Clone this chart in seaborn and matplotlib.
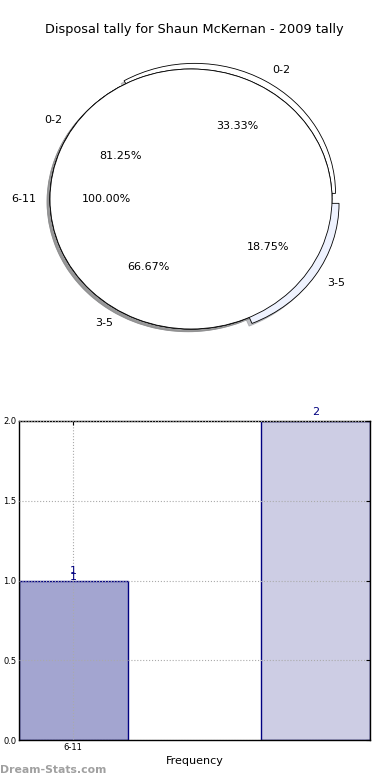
import matplotlib
matplotlib.use("Agg")
import matplotlib.pyplot as plt
import seaborn as sns
import pandas as pd

title = "Disposal tally for Shaun McKernan - 2009 tally"

# pie layers, drawn bottom to top
pie_a_labels = ["0-2", "3-5"]
pie_a_values = [33.33, 66.67]
pie_b_labels = ["0-2", "3-5"]
pie_b_values = [81.25, 18.75]
pie_c_labels = ["6-11"]
pie_c_values = [100.0]

# bar chart
bar_cats = ["6-11", " "]
bar_values = [1, 2]
bar_ticks = ["6-11"]

sns.set_style("white")
plt.rcParams['font.family'] = ['DejaVu Sans']
plt.rcParams['text.color'] = 'black'
plt.rcParams['xtick.color'] = 'black'
plt.rcParams['ytick.color'] = 'black'
plt.rcParams['axes.labelcolor'] = 'black'

white = "#ffffff"
light_blue = "#eef2fe"

fig = plt.figure(figsize=(3.9, 7.8), dpi=100)

fig.text(0.497, 1 - 30 / 780, title, ha='center', va='center', fontsize=9.3)

# ---- pie ----
ax1 = fig.add_axes([0.65 / 390, (780 - 361.5) / 780, 380.7 / 390, 325 / 780])
common = dict(autopct='%1.2f%%', startangle=0, pctdistance=0.6,
              shadow={'ox': -0.015, 'oy': -0.015, 'shade': 0.45},
              labeldistance=1.1, textprops=dict(fontsize=8),
              wedgeprops=dict(edgecolor='black', linewidth=0.6))
ax1.pie(pie_a_values, labels=pie_a_labels, explode=[0.05, 0],
        colors=[white, light_blue], **common)
ax1.pie(pie_b_values, labels=pie_b_labels, explode=[0, 0.06],
        colors=[white, light_blue], **common)
ax1.pie(pie_c_values, labels=pie_c_labels, colors=[white], **common)
ax1.set_aspect('auto')
ax1.set_xlim(-1.35, 1.35)
ax1.set_ylim(-1.25, 1.25)
ax1.axis('off')

# ---- bars ----
ax2 = fig.add_axes([19 / 390, 40 / 780, 351 / 390, 319 / 780])
df = pd.DataFrame({'cat': bar_cats, 'val': bar_values})
sns.barplot(data=df, x='cat', y='val', hue='cat', palette=["#a3a5d0", "#cdcde4"],
            width=0.45, edgecolor='navy', linewidth=1, legend=False, ax=ax2,
            saturation=1)
for i, v in enumerate(bar_values):
    ax2.annotate(str(v), xy=(i, v), xytext=(0, 3), textcoords='offset points',
                 ha='center', va='bottom', color='navy', fontsize=8)
# the first bar carries a second, slightly lower "1" in the original
ax2.annotate(str(bar_values[0]), xy=(0, bar_values[0]), xytext=(0, -1),
             textcoords='offset points', ha='center', va='bottom',
             color='navy', fontsize=8)
ax2.set_xlim(-0.224, 1.225)
ax2.set_ylim(0, 2.0)
ax2.set_xticks([0])
ax2.set_xticklabels(bar_ticks)
ax2.set_yticks([0.0, 0.5, 1.0, 1.5, 2.0])
ax2.set_yticklabels(["0.0", "0.5", "1.0", "1.5", "2.0"])
ax2.tick_params(labelsize=6, direction='in', top=True, right=True, length=3, pad=2)
ax2.grid(True, linestyle=':', color='#aaaaaa', linewidth=0.8)
ax2.set_axisbelow(False)
ax2.set_xlabel("Frequency", fontsize=8, labelpad=3)
ax2.set_ylabel("")
for s in ax2.spines.values():
    s.set_color('black')
    s.set_linewidth(1)

fig.text(0.0, 1 - 770 / 780, "Dream-Stats.com", ha='left', va='center',
         fontsize=7.8, fontweight='bold', color='#a0a0a0')

fig.savefig("out.png", dpi=100)
